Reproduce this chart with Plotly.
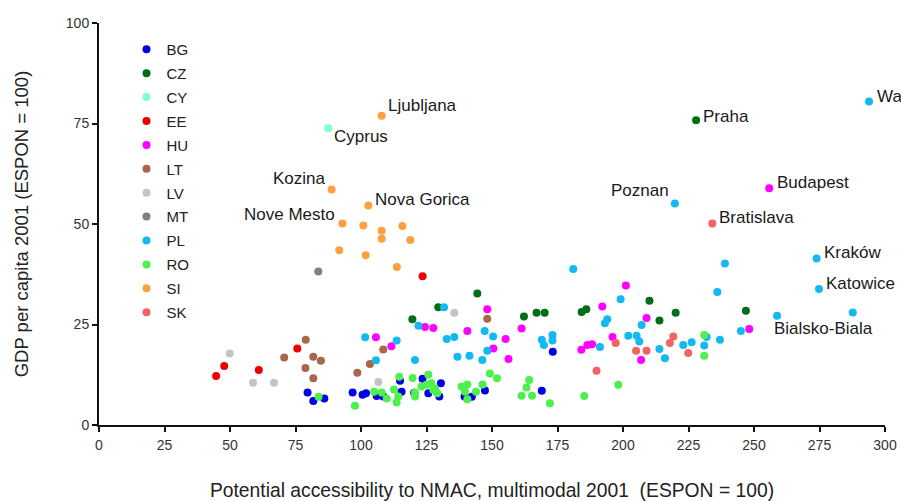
import plotly.graph_objects as go

countries = ["BG", "CZ", "CY", "EE", "HU", "LT", "LV", "MT", "PL", "RO", "SI", "SK"]
colors = {
    "BG": "#0000e6", "CZ": "#006e14", "CY": "#7fffd4", "EE": "#ee0000",
    "HU": "#ff00ff", "LT": "#a9674a", "LV": "#c4c4c4", "MT": "#808080",
    "PL": "#14b9f2", "RO": "#4df04d", "SI": "#ffa040", "SK": "#f26464",
}

bg_x = [79.6, 81.8, 86.0, 96.8, 100.6, 101.9, 106.0, 108.5, 114.9, 115.5, 120.3, 123.5, 125.7,
        130.5, 129.9, 139.5, 142.3, 147.3, 169.0, 173.2]
bg_y = [8.1, 6.0, 6.6, 8.1, 7.5, 7.9, 7.2, 7.1, 11.0, 8.3, 8.0, 11.5, 7.9,
        10.4, 7.1, 7.1, 7.0, 8.6, 8.5, 18.2]

cz_x = [119.6, 129.5, 144.4, 162.2, 167.0, 170.1, 184.2, 186.0, 210.1, 213.9, 220.1, 246.9, 227.9]
cz_y = [26.3, 29.3, 32.7, 27.0, 27.9, 27.9, 28.1, 28.8, 30.9, 26.0, 27.9, 28.4, 75.8]

cy_x = [87.5]
cy_y = [73.8]

ee_x = [44.7, 47.8, 61.0, 75.7, 123.5]
ee_y = [12.2, 14.7, 13.7, 19.0, 37.0]

hu_x = [105.7, 111.6, 124.4, 127.6, 140.6, 148.2, 150.5, 155.2, 156.3, 161.3, 184.1, 186.4,
        188.2, 192.1, 196.0, 201.1, 206.9, 209.0, 248.2, 255.8]
hu_y = [21.8, 19.6, 24.4, 24.1, 23.4, 28.8, 19.0, 21.4, 16.4, 24.0, 18.7, 19.9,
        20.1, 29.5, 21.9, 34.7, 16.2, 26.6, 23.9, 58.9]

lt_x = [70.7, 78.9, 81.8, 84.7, 78.8, 81.8, 98.6, 103.4, 108.5, 148.2]
lt_y = [16.8, 21.2, 17.0, 16.0, 14.2, 11.6, 13.0, 15.2, 18.8, 26.4]

lv_x = [49.9, 58.8, 66.8, 106.6, 135.6]
lv_y = [17.8, 10.5, 10.5, 10.7, 27.9]

mt_x = [83.7]
mt_y = [38.2]

pl_x = [101.6, 105.7, 113.6, 120.6, 121.9, 131.7, 132.7, 135.6, 136.8, 141.4, 146.3, 147.2,
        148.2, 150.4, 169.0, 173.1, 173.1, 169.8, 181.0, 191.2, 194.0, 193.1, 199.1, 202.0,
        205.2, 206.2, 207.1, 213.9, 216.0, 223.0, 226.2, 231.9, 231.0, 237.0, 236.0, 238.9,
        245.0, 258.8, 287.7, 273.9, 274.8, 219.8, 293.9]
pl_y = [21.8, 16.1, 21.0, 16.2, 24.7, 29.3, 21.4, 21.9, 17.0, 17.2, 16.2, 23.4,
        18.5, 22.0, 21.2, 22.4, 21.0, 19.9, 38.8, 19.4, 26.3, 25.3, 31.3, 22.2,
        22.2, 20.8, 24.9, 18.9, 16.6, 19.9, 20.6, 21.9, 19.8, 21.2, 33.1, 40.2,
        23.4, 27.2, 28.0, 41.4, 33.8, 55.1, 80.5]

ro_x = [83.8, 97.7, 105.0, 107.9, 109.8, 112.6, 114.6, 114.2, 113.6, 119.7, 125.7, 120.6,
        123.1, 125.0, 128.2, 129.1, 126.9, 120.6, 127.6, 138.4, 140.6, 139.7, 140.6, 143.9,
        146.4, 149.2, 151.9, 161.3, 163.2, 164.2, 165.3, 172.1, 185.2, 198.2, 231.0, 231.0]
ro_y = [7.0, 4.8, 8.3, 8.1, 6.6, 8.8, 12.0, 7.1, 5.6, 11.7, 12.5, 8.1,
        9.6, 10.0, 9.1, 7.9, 10.4, 7.1, 8.7, 9.6, 10.1, 8.3, 6.4, 8.3,
        10.1, 12.8, 11.6, 7.3, 9.3, 11.2, 7.3, 5.4, 7.2, 10.0, 22.4, 17.2]

si_x = [107.9, 88.8, 102.8, 92.9, 100.9, 107.9, 107.9, 115.8, 118.8, 91.7, 101.8, 113.7]
si_y = [76.9, 58.6, 54.6, 50.1, 49.6, 48.3, 46.3, 49.5, 46.0, 43.5, 42.2, 39.3]

sk_x = [234.1, 189.9, 197.2, 205.0, 209.0, 217.9, 219.2, 224.9]
sk_y = [50.1, 13.5, 20.4, 18.5, 18.5, 20.4, 22.0, 17.9]

series = {
    "BG": (bg_x, bg_y), "CZ": (cz_x, cz_y), "CY": (cy_x, cy_y), "EE": (ee_x, ee_y),
    "HU": (hu_x, hu_y), "LT": (lt_x, lt_y), "LV": (lv_x, lv_y), "MT": (mt_x, mt_y),
    "PL": (pl_x, pl_y), "RO": (ro_x, ro_y), "SI": (si_x, si_y), "SK": (sk_x, sk_y),
}

# labelled regions: name, x, y
label_names = ["Ljubljana", "Cyprus", "Kozina", "Nova Gorica", "Nove Mesto", "Praha", "Poznan",
               "Budapest", "Bratislava", "Kraków", "Katowice", "Bialsko-Biala", "Warszawa"]
label_x = [107.9, 87.5, 88.8, 102.8, 92.9, 227.9, 219.8, 255.8, 234.1, 273.9, 274.8, 258.8, 293.9]
label_y = [76.9, 73.8, 58.6, 54.6, 50.1, 75.8, 55.1, 58.9, 50.1, 41.4, 33.8, 27.2, 80.5]
# (xanchor, xshift, yshift) style offsets
label_style = [("left", 4, 10), ("left", 4, -8), ("right", -4, 11), ("left", 5, 6),
               ("right", -5, 9), ("left", 5, 4), ("right", -4, 13), ("left", 6, 6),
               ("left", 5, 6), ("left", 5, 6), ("left", 5, 6), ("left", -5, -13),
               ("left", 6, 5)]

x_ticks = [0, 25, 50, 75, 100, 125, 150, 175, 200, 225, 250, 275, 300]
y_ticks = [0, 25, 50, 75, 100]

FONT = "Liberation Sans, Arial"

fig = go.Figure()
for c in countries:
    xs, ys = series[c]
    fig.add_trace(go.Scatter(
        x=xs, y=ys, mode="markers", name=c, legendgroup=c,
        marker=dict(size=8, color=colors[c], line=dict(width=0)),
        cliponaxis=False,
    ))

for name, lx, ly, (xa, xs_, ys_) in zip(label_names, label_x, label_y, label_style):
    fig.add_annotation(x=lx, y=ly, text=name, showarrow=False, xanchor=xa, yanchor="middle",
                       xshift=xs_, yshift=ys_,
                       font=dict(family=FONT, size=17, color="#1a1a1a"))

axis_font = dict(family=FONT, size=14, color="#333333")
fig.update_layout(
    width=901, height=501,
    margin=dict(l=99, r=16, t=23, b=76),
    paper_bgcolor="white", plot_bgcolor="white",
    font=dict(family=FONT, color="#222222"),
    showlegend=True,
    legend=dict(x=0.035, y=0.975, xanchor="left", yanchor="top",
                font=dict(family=FONT, size=15, color="#222222"),
                tracegroupgap=1.4, itemsizing="trace", bgcolor="rgba(0,0,0,0)",
                traceorder="grouped"),
    xaxis=dict(range=[0, 300], tickvals=x_ticks, showgrid=False, zeroline=False,
               automargin=False,
               showline=True, linecolor="#111111", linewidth=2, ticks="outside",
               ticklen=5, tickwidth=1.5, tickcolor="#111111", tickfont=axis_font,
               ticklabelstandoff=1,
               title=dict(text="Potential accessibility to NMAC, multimodal 2001  (ESPON = 100)",
                          font=dict(family=FONT, size=19.3, color="#222222"),
                          standoff=34)),
    yaxis=dict(range=[0, 100], tickvals=y_ticks, showgrid=False, zeroline=False,
               automargin=False,
               showline=True, linecolor="#111111", linewidth=2, ticks="outside",
               ticklen=5, tickwidth=1.5, tickcolor="#111111", tickfont=axis_font,
               title=dict(text="GDP per capita 2001 (ESPON = 100)",
                          font=dict(family=FONT, size=18.5, color="#222222"),
                          standoff=32)),
)

fig.write_html("out.html")
